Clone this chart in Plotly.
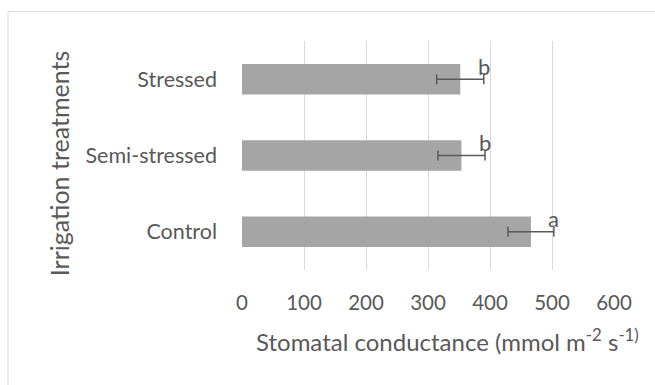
import plotly.graph_objects as go

categories = ["Control", "Semi-stressed", "Stressed"]
means = [466, 354, 352]
errors = [37, 38, 38]
letters = ["a", "b", "b"]
x_ticks = [0, 100, 200, 300, 400, 500, 600]

FONT = "Lato"
GRAY = "#595959"

fig = go.Figure()
fig.add_trace(go.Bar(
    y=categories, x=means, orientation="h",
    marker=dict(color="#a5a5a5", line=dict(width=0)),
    error_x=dict(type="data", array=errors, visible=True, color=GRAY, thickness=1.5, width=5),
    width=0.4,
))

for c, m, e, l in zip(categories, means, errors, letters):
    fig.add_annotation(x=m + e, y=c, text=l, showarrow=False, yshift=13,
                       font=dict(family=FONT, size=22, color=GRAY))

fig.add_annotation(xref="paper", yref="paper", x=(447.5 - 242) / 372, y=-(340 - 270) / 229.5,
                   text="Stomatal conductance (mmol m<sup>-2</sup> s<sup>-1)</sup>", showarrow=False,
                   font=dict(family=FONT, size=24, color=GRAY), xanchor="center", yanchor="middle")
fig.add_annotation(xref="paper", yref="paper", x=-(242 - 59) / 372, y=(270 - 163) / 229.5,
                   text="Irrigation treatments", showarrow=False, textangle=-90,
                   font=dict(family=FONT, size=25, color=GRAY), xanchor="center", yanchor="middle")

fig.add_shape(type="rect", xref="paper", yref="paper",
              x0=-(242 - 8) / 372, y0=-0.7, x1=1.2, y1=1 + (40.5 - 11) / 229.5,
              line=dict(color="#d9d9d9", width=1), fillcolor="rgba(0,0,0,0)", layer="below")

fig.update_layout(
    width=655, height=385,
    margin=dict(l=242, r=41, t=40.5, b=115, autoexpand=False),
    paper_bgcolor="white", plot_bgcolor="white",
    showlegend=False,
    font=dict(family=FONT, color=GRAY, size=20),
    xaxis=dict(range=[0, 600], tickvals=x_ticks, showgrid=True, gridcolor="#d9d9d9", gridwidth=1,
               zeroline=False, showline=False, ticks="", ticklabelstandoff=18,
               tickfont=dict(family=FONT, size=20.5, color=GRAY)),
    yaxis=dict(showgrid=False, zeroline=False, showline=False, ticks="", ticklabelstandoff=24,
               tickfont=dict(family=FONT, size=21.5, color=GRAY)),
)

fig.write_html("out.html", config={"displayModeBar": False},
               post_script="document.body.style.margin='0';")
